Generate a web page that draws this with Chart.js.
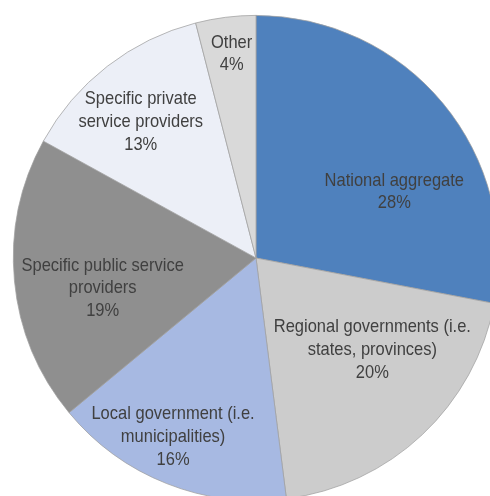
<!DOCTYPE html>
<html>
<head>
<meta charset="utf-8">
<script src="https://cdn.jsdelivr.net/npm/chart.js@4/dist/chart.umd.min.js"></script>
<style>
  html, body { margin: 0; padding: 0; background: #fff; overflow: hidden; }
  #wrap { position: absolute; left: 0; top: 0; width: 512px; height: 516px; }
</style>
</head>
<body>
<div id="wrap"><canvas id="myChart" width="512" height="516"></canvas></div>
<script>
// slices clockwise from 12 o'clock
var categories = [
    ["National aggregate"],
    ["Regional governments (i.e.", "states, provinces)"],
    ["Local government (i.e.", "municipalities)"],
    ["Specific public service", "providers"],
    ["Specific private", "service providers"],
    ["Other"]
];
var shares = [28, 20, 16, 19, 13, 4];
var colors = ["#4f81bd", "#cccccc", "#a7b9e2", "#8f8f8f", "#eceff7", "#d9d9d9"];

// where each label sits: degrees off the slice middle, fraction of radius
var labelPlace = [
    [14.0, 0.632],
    [-8.5, 0.611],
    [3.3, 0.812],
    [-5.7, 0.644],
    [-2.4, 0.736],
    [0.4, 0.848]
];

var sliceLabels = {
    id: "sliceLabels",
    afterDatasetsDraw: function (chart) {
        var ctx = chart.ctx;
        var meta = chart.getDatasetMeta(0);
        ctx.save();
        ctx.font = "16.5px 'Liberation Sans', Arial, sans-serif";
        ctx.fillStyle = "#404040";
        ctx.textAlign = "center";
        ctx.textBaseline = "middle";
        var lineH = 22.8;
        meta.data.forEach(function (arc, i) {
            var p = arc.getProps(["x", "y", "startAngle", "endAngle", "outerRadius"], true);
            var mid = (p.startAngle + p.endAngle) / 2 + labelPlace[i][0] * Math.PI / 180;
            var r = p.outerRadius * labelPlace[i][1];
            var cx = p.x + Math.cos(mid) * r;
            var cy = p.y + Math.sin(mid) * r;
            var lines = categories[i].concat([shares[i] + "%"]);
            var top = cy - (lines.length - 1) * lineH / 2;
            lines.forEach(function (t, k) {
                // text is a little taller than wide, like the office font
                ctx.save();
                ctx.translate(cx, top + k * lineH);
                ctx.scale(1, 1.16);
                ctx.fillText(t, 0, 0);
                ctx.restore();
            });
        });
        ctx.restore();
    }
};

createChart = () => {
    chart = new Chart(document.getElementById("myChart"), {
        type: "pie",
        data: {
            labels: categories,
            datasets: [{
                data: shares,
                backgroundColor: colors,
                borderColor: "#a0a0a0",
                borderWidth: 0.75
            }]
        },
        options: {
            responsive: false,
            animation: false,
            devicePixelRatio: 1,
            layout: { padding: { left: 13, right: 13, top: 15, bottom: 15 } },
            plugins: {
                legend: { display: false },
                tooltip: { enabled: false }
            }
        },
        plugins: [sliceLabels]
    });
}

createChart();
</script>
</body>
</html>
